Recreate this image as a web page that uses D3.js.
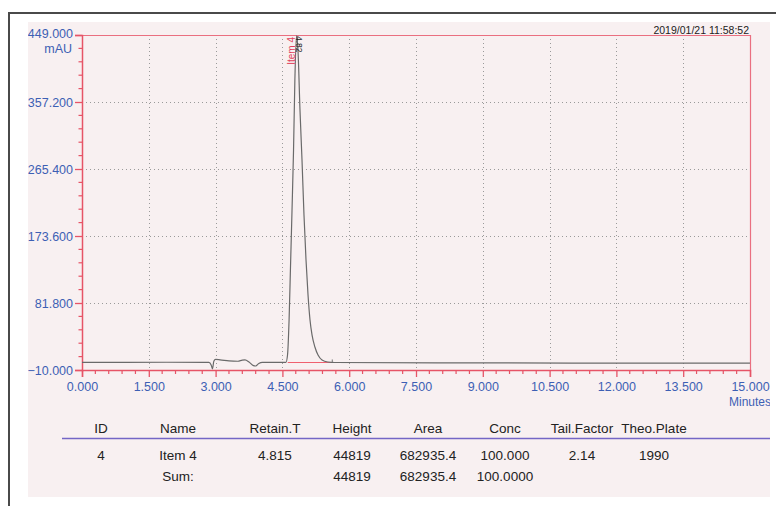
<!DOCTYPE html>
<html>
<head>
<meta charset="utf-8">
<script src="https://cdn.jsdelivr.net/npm/d3@7"></script>
<style>
  html, body { margin: 0; padding: 0; background: #ffffff; }
  svg { display: block; font-family: "Liberation Sans", Arial, sans-serif; }
</style>
</head>
<body>
<svg id="chart" width="776" height="506"></svg>
<script>
// Detector trace: retention time (min) and signal (mAU)
const timeMin = [
  0, 1.90, 2.85, 2.90, 2.93, 2.96, 3.00, 3.10, 3.30, 3.50, 3.60, 3.66, 3.75, 3.85, 3.90, 3.97, 4.05,
  4.58, 4.615, 4.65, 4.68, 4.716, 4.75, 4.78, 4.817, 4.85, 4.895, 4.94, 4.985, 5.03, 5.075, 5.12,
  5.165, 5.23, 5.30, 5.39, 5.52, 5.68, 8.0, 11.0, 15.0
];
const signalMAU = [
  0.5, 0.6, 0.5, -3.0, -8.5, 2.0, 4.5, 4.0, 2.5, 2.0, 3.5, 3.8, 1.0, -4.0, -4.5, -1.0, 0.5,
  0.5, 10.5, 58.5, 127, 209, 291, 387, 448.2, 428, 346, 278, 202, 141, 93, 58.5,
  38, 21.5, 10.5, 3.7, 1.0, 0.3, -0.2, -0.5, -0.7
];

// Axis ticks
const xTicks = [0, 1.5, 3, 4.5, 6, 7.5, 9, 10.5, 12, 13.5, 15];
const yTicks = [-10, 81.8, 173.6, 265.4, 357.2, 449];

// Integrated peak
const peakName = "Item 4";
const peakTime = 4.815;
const peakLabel = "4.82";
const peakStart = 4.62;
const peakEnd = 5.62;
const peakBase = 0.3;

// Result table
const tableHeaders = ["ID", "Name", "Retain.T", "Height", "Area", "Conc", "Tail.Factor", "Theo.Plate"];
const tableRow = ["4", "Item 4", "4.815", "44819", "682935.4", "100.000", "2.14", "1990"];
const tableSum = ["", "Sum:", "", "44819", "682935.4", "100.0000", "", ""];

const stamp = "2019/01/21 11:58:52";

const svg = d3.select("#chart");
const W = 776, H = 506;
const paper = { x: 28, y: 22, w: 742, h: 475 };
const plot = { left: 82, right: 750, top: 35, bottom: 370 };

const red = "#e65467";
const blue = "#3d5fb4";

// Frame and paper
svg.append("rect").attr("x", paper.x).attr("y", paper.y).attr("width", paper.w).attr("height", paper.h)
  .attr("fill", "#f8f0f1");
svg.append("line").attr("x1", 9).attr("x2", W).attr("y1", 13).attr("y2", 13)
  .attr("stroke", "#4a4a4a").attr("stroke-width", 2);
svg.append("line").attr("x1", 9).attr("x2", 9).attr("y1", 12).attr("y2", H)
  .attr("stroke", "#4a4a4a").attr("stroke-width", 2);

const defs = svg.append("defs");
defs.append("clipPath").attr("id", "paperClip").append("rect")
  .attr("x", paper.x).attr("y", paper.y).attr("width", paper.w).attr("height", paper.h);
defs.append("clipPath").attr("id", "plotClip").append("rect")
  .attr("x", plot.left).attr("y", plot.top - 2).attr("width", plot.right - plot.left).attr("height", plot.bottom - plot.top + 2);

const root = svg.append("g").attr("clip-path", "url(#paperClip)");

const x = d3.scaleLinear().domain([0, 15]).range([plot.left, plot.right]);
const y = d3.scaleLinear().domain([-10, 449]).range([plot.bottom, plot.top]);

// Dotted grid
const grid = root.append("g").attr("stroke", "#9a9a9a").attr("stroke-width", 1).attr("stroke-dasharray", "1,3");
grid.selectAll("line.v").data(xTicks.slice(1, -1)).join("line").attr("class", "v")
  .attr("x1", d => Math.round(x(d)) + 0.5).attr("x2", d => Math.round(x(d)) + 0.5)
  .attr("y1", plot.top).attr("y2", plot.bottom);
grid.selectAll("line.h").data(yTicks.slice(1, -1)).join("line").attr("class", "h")
  .attr("y1", d => Math.round(y(d)) + 0.5).attr("y2", d => Math.round(y(d)) + 0.5)
  .attr("x1", plot.left).attr("x2", plot.right);

// Top and right border of the plot
root.append("line").attr("x1", plot.left).attr("x2", plot.right).attr("y1", plot.top + 0.5).attr("y2", plot.top + 0.5)
  .attr("stroke", "#ea6f80").attr("stroke-width", 1.2);
root.append("line").attr("x1", plot.right + 0.5).attr("x2", plot.right + 0.5).attr("y1", plot.top).attr("y2", plot.bottom)
  .attr("stroke", "#ea6f80").attr("stroke-width", 1.2);

// Minor tick values (5 subdivisions per major step)
const xMinor = d3.range(0, 50).map(i => i * 0.3).filter((d, i) => i % 5 !== 0);
const yMinor = d3.range(0, 25).map(i => -10 + i * 18.36).filter((d, i) => i % 5 !== 0);

// X axis
const xAxis = root.append("g").attr("transform", `translate(0,${plot.bottom})`)
  .call(d3.axisBottom(x).tickValues(xTicks).tickFormat(d3.format(".3f")).tickSize(7).tickPadding(5));
xAxis.select(".domain").attr("stroke", red).attr("stroke-width", 1.5);
xAxis.selectAll(".tick line").attr("stroke", red).attr("stroke-width", 1.3);
xAxis.selectAll(".tick text").attr("fill", blue).attr("font-size", 12.5).attr("font-family", "Liberation Sans, Arial, sans-serif");
root.append("g").selectAll("line").data(xMinor).join("line")
  .attr("x1", d => x(d)).attr("x2", d => x(d)).attr("y1", plot.bottom).attr("y2", plot.bottom + 4)
  .attr("stroke", red).attr("stroke-width", 1.2);
root.append("text").attr("x", x(15) - 21).attr("y", 405.5).attr("fill", blue)
  .attr("font-size", 12).text("Minutes");

// Y axis
const yAxis = root.append("g").attr("transform", `translate(${plot.left},0)`)
  .call(d3.axisLeft(y).tickValues(yTicks).tickFormat(d3.format(".3f")).tickSize(7).tickPadding(2));
yAxis.select(".domain").attr("stroke", red).attr("stroke-width", 1.5);
yAxis.selectAll(".tick line").attr("stroke", red).attr("stroke-width", 1.3);
yAxis.selectAll(".tick text").attr("fill", blue).attr("font-size", 12.5).attr("font-family", "Liberation Sans, Arial, sans-serif");
yAxis.selectAll(".tick text").filter(d => d === 449).attr("dy", "0.2em");
root.append("g").selectAll("line").data(yMinor).join("line")
  .attr("y1", d => y(d)).attr("y2", d => y(d)).attr("x1", plot.left - 3.5).attr("x2", plot.left)
  .attr("stroke", red).attr("stroke-width", 1.2);
root.append("text").attr("x", 72).attr("y", 53).attr("text-anchor", "end").attr("fill", blue)
  .attr("font-size", 12.5).text("mAU");

// Integration baseline under the peak
root.append("line").attr("x1", x(peakStart)).attr("x2", x(peakEnd)).attr("y1", y(peakBase)).attr("y2", y(peakBase))
  .attr("stroke", "#f0606f").attr("stroke-width", 1.2);
root.append("line").attr("x1", x(peakEnd)).attr("x2", x(peakEnd)).attr("y1", y(peakBase) - 3).attr("y2", y(peakBase))
  .attr("stroke", "#777").attr("stroke-width", 1);

// Chromatogram trace
const trace = timeMin.map((t, i) => [t, signalMAU[i]]);
root.append("path").datum(trace).attr("clip-path", "url(#plotClip)")
  .attr("fill", "none").attr("stroke", "#6a6a6a").attr("stroke-width", 1.2)
  .attr("d", d3.line().x(d => x(d[0])).y(d => y(d[1])).curve(d3.curveMonotoneX));

// Peak labels
root.append("text").attr("transform", `translate(${x(peakTime) - 5},${plot.top + 2}) rotate(-90)`)
  .attr("text-anchor", "end").attr("dy", "0.35em").attr("fill", "#e0405a").attr("font-size", 10).text(peakName);
root.append("text").attr("transform", `translate(${x(peakTime) + 2.5},${plot.top + 1}) rotate(90)`)
  .attr("text-anchor", "start").attr("dy", "0.35em").attr("fill", "#222").attr("font-size", 8.5).text(peakLabel);

// Time stamp
root.append("text").attr("x", 749).attr("y", 34).attr("text-anchor", "end")
  .attr("fill", "#222").attr("font-size", 10.5).text(stamp);

// Result table
const colX = [101, 178, 275, 352, 428, 505, 582, 654];
const table = root.append("g").attr("font-size", 13.5).attr("fill", "#222").attr("text-anchor", "middle");
table.selectAll("text.h").data(tableHeaders).join("text").attr("class", "h")
  .attr("x", (d, i) => colX[i]).attr("y", 433).text(d => d);
table.append("line").attr("x1", 62).attr("x2", 772).attr("y1", 438.5).attr("y2", 438.5)
  .attr("stroke", "#7466c6").attr("stroke-width", 1.5);
table.selectAll("text.r").data(tableRow).join("text").attr("class", "r")
  .attr("x", (d, i) => colX[i]).attr("y", 460).text(d => d);
table.selectAll("text.s").data(tableSum).join("text").attr("class", "s")
  .attr("x", (d, i) => colX[i]).attr("y", 480.5).text(d => d);
</script>
</body>
</html>
